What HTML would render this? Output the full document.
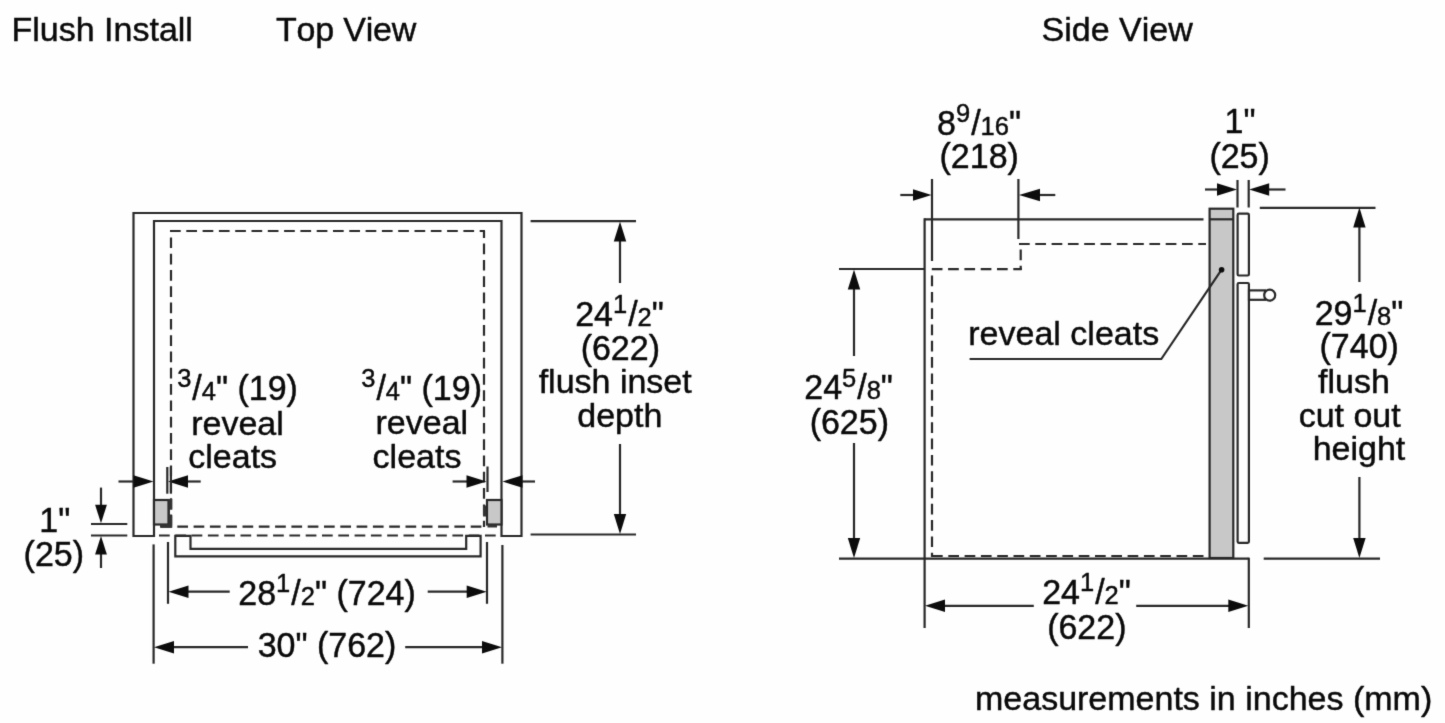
<!DOCTYPE html>
<html lang="en">
<head>
<meta charset="utf-8">
<title>Flush Install - Top View / Side View</title>
<style>
html,body{margin:0;padding:0;background:#fff;}
body{width:1445px;height:723px;overflow:hidden;}
svg{display:block;will-change:transform;}
text{font-family:"Liberation Sans",Arial,Helvetica,sans-serif;font-size:34px;fill:#0a0a0a;stroke:#0a0a0a;stroke-width:0.45px;stroke-linejoin:round;font-kerning:none;font-variant-ligatures:none;}
.n,.d{font-size:25.5px;}
.l{stroke:#282828;stroke-width:2.2;fill:none;stroke-linecap:butt;}
.dsh{stroke:#282828;stroke-width:2.2;fill:none;stroke-dasharray:10.7 5.6;}
.a{fill:#0c0c0c;stroke:none;}
.sh{fill:#333;stroke:none;}
.g{fill:#c8c8c8;stroke:#282828;stroke-width:2.2;}
.w{fill:#fefefe;stroke:#282828;stroke-width:2.2;}
</style>
</head>
<body>
<svg width="1445" height="723" viewBox="0 0 1445 723">
<defs>
<filter id="soft" x="0" y="0" width="1445" height="723" filterUnits="userSpaceOnUse" color-interpolation-filters="sRGB">
<feConvolveMatrix order="3" kernelMatrix="0.0121 0.0858 0.0121 0.0858 0.6084 0.0858 0.0121 0.0858 0.0121" divisor="1" edgeMode="duplicate" preserveAlpha="true"/>
</filter>
</defs>
<g filter="url(#soft)">
<rect x="0" y="0" width="1445" height="723" fill="#fefefe"/>
<text x="11.5" y="40.7" text-anchor="start">Flush Install</text>
<text x="276" y="40.7" text-anchor="start" letter-spacing="-0.2">Top View</text>
<text x="1041.5" y="40.7" text-anchor="start">Side View</text>
<text x="975" y="710" text-anchor="start">measurements in inches (mm)</text>
<g id="topview">
<path class="l" d="M133.5,536 V213 H521.5 V536 H501.5 V221 H154 V536 Z"/>
<line class="dsh" x1="170" y1="231" x2="485" y2="231"/>
<line class="dsh" x1="171" y1="237.4" x2="171" y2="527"/>
<line class="dsh" x1="484" y1="231" x2="484" y2="527" stroke-dashoffset="3.7"/>
<line class="dsh" x1="161" y1="526.7" x2="484" y2="526.7"/>
<line class="dsh" x1="159" y1="535.5" x2="497" y2="535.5"/>
<rect class="g" x="154" y="500" width="14.5" height="24.5"/>
<rect class="g" x="487" y="500" width="14.5" height="24.5"/>
<path class="sh" d="M168.4,499 H172.3 V509.8 H170 V515.3 H172.3 V527.8 H160 V524.3 H168.4 Z"/>
<path class="sh" d="M487.5,524.5 H497 V527.6 H487.5 Z M483,505.5 H486.2 V516.6 H483 Z"/>
<path class="l" d="M175.3,535.8 V556.3 H480.6 V535.8 H466.2 V548.8 H190.5 V535.8 Z"/>
<line class="l" x1="118.5" y1="481.5" x2="134.5" y2="481.5"/>
<polygon class="a" points="153.5,481.5 133.5,475.3 133.5,487.7"/>
<line class="l" x1="187" y1="481.5" x2="200.7" y2="481.5"/>
<polygon class="a" points="168,481.5 188,475.3 188,487.7"/>
<line class="l" x1="167.3" y1="467" x2="167.3" y2="493.7"/>
<line class="l" x1="170.9" y1="467" x2="170.9" y2="493.7"/>
<line class="l" x1="452.6" y1="481.5" x2="467.5" y2="481.5"/>
<polygon class="a" points="486.5,481.5 466.5,475.3 466.5,487.7"/>
<line class="l" x1="521.5" y1="481.5" x2="535" y2="481.5"/>
<polygon class="a" points="502.5,481.5 522.5,475.3 522.5,487.7"/>
<line class="l" x1="487.5" y1="466.5" x2="487.5" y2="492"/>
<line class="l" x1="91" y1="524" x2="127.3" y2="524"/>
<line class="l" x1="91" y1="535.5" x2="127.3" y2="535.5"/>
<line class="l" x1="101" y1="487.6" x2="101" y2="505.79999999999995"/>
<polygon class="a" points="101,523.3 95.1,504.79999999999995 106.9,504.79999999999995"/>
<line class="l" x1="101" y1="553.5" x2="101" y2="568"/>
<polygon class="a" points="101,536 95.1,554.5 106.9,554.5"/>
<line class="l" x1="530.6" y1="221.2" x2="636" y2="221.2"/>
<line class="l" x1="530.6" y1="534.5" x2="636" y2="534.5"/>
<line class="l" x1="620" y1="240.5" x2="620" y2="283"/>
<polygon class="a" points="620,221.5 613.8,241.5 626.2,241.5"/>
<line class="l" x1="620" y1="444" x2="620" y2="515"/>
<polygon class="a" points="620,534 613.8,514 626.2,514"/>
<line class="l" x1="168" y1="542" x2="168" y2="603.8"/>
<line class="l" x1="487" y1="542" x2="487" y2="603.8"/>
<line class="l" x1="187.5" y1="591.7" x2="229.7" y2="591.7"/>
<polygon class="a" points="168.5,591.7 188.5,585.5 188.5,597.9000000000001"/>
<line class="l" x1="427.7" y1="591.7" x2="467.7" y2="591.7"/>
<polygon class="a" points="486.7,591.7 466.7,585.5 466.7,597.9000000000001"/>
<line class="l" x1="153.6" y1="544.4" x2="153.6" y2="663.7"/>
<line class="l" x1="502.4" y1="545" x2="502.4" y2="663.7"/>
<line class="l" x1="173" y1="647.2" x2="248" y2="647.2"/>
<polygon class="a" points="154,647.2 174,641.0 174,653.4000000000001"/>
<line class="l" x1="405.2" y1="647.2" x2="483" y2="647.2"/>
<polygon class="a" points="502,647.2 482,641.0 482,653.4000000000001"/>
<text transform="translate(619.5 326.3) scale(1 1.04)" text-anchor="middle">24<tspan class="n" dy="-12.4">1</tspan><tspan dy="12.4" dx="1">/</tspan><tspan class="d">2</tspan>"</text>
<text transform="translate(620.3 360.4) scale(1 1.04)" text-anchor="middle">(622)</text>
<text x="615.2" y="393" text-anchor="middle">flush inset</text>
<text x="619.8" y="426.7" text-anchor="middle">depth</text>
<text transform="translate(237.5 400) scale(1 1.04)" text-anchor="middle"><tspan class="n" dy="-12.4">3</tspan><tspan dy="12.4" dx="1">/</tspan><tspan class="d">4</tspan>" (19)</text>
<text x="237.5" y="434.5" text-anchor="middle">reveal</text>
<text x="232.7" y="468.4" text-anchor="middle">cleats</text>
<text transform="translate(421.6 400.3) scale(1 1.04)" text-anchor="middle"><tspan class="n" dy="-12.4">3</tspan><tspan dy="12.4" dx="1">/</tspan><tspan class="d">4</tspan>" (19)</text>
<text x="421.8" y="434.2" text-anchor="middle">reveal</text>
<text x="417" y="468.4" text-anchor="middle">cleats</text>
<text transform="translate(54.8 531.8) scale(1 1.04)" text-anchor="middle">1"</text>
<text transform="translate(53.8 565.8) scale(1 1.04)" text-anchor="middle">(25)</text>
<text transform="translate(327 604.8) scale(1 1.04)" text-anchor="middle">28<tspan class="n" dy="-12.4">1</tspan><tspan dy="12.4" dx="1">/</tspan><tspan class="d">2</tspan>" (724)</text>
<text transform="translate(327 657) scale(1 1.04)" text-anchor="middle">30" (762)</text>
</g>
<g id="sideview">
<line class="l" x1="924.5" y1="219.3" x2="1203.5" y2="219.3"/>
<line class="l" x1="924.6" y1="218.3" x2="924.6" y2="628"/>
<line class="l" x1="839" y1="558.7" x2="1248.8" y2="558.7"/>
<line class="l" x1="1248.8" y1="557.7" x2="1248.8" y2="628"/>
<line class="dsh" x1="1019" y1="244" x2="1206" y2="244"/>
<line class="dsh" x1="1020.7" y1="249.5" x2="1020.7" y2="270" stroke-dasharray="8.5 2.5 10 9"/>
<line class="dsh" x1="931.8" y1="269.2" x2="1021.7" y2="269.2" stroke-dasharray="11.2 5.3"/>
<line class="dsh" x1="932" y1="275.6" x2="932" y2="557"/>
<line class="dsh" x1="932" y1="556" x2="1204.3" y2="556"/>
<line class="l" x1="932" y1="179" x2="932" y2="261"/>
<line class="l" x1="1018.4" y1="179" x2="1018.4" y2="239"/>
<line class="l" x1="900.3" y1="195" x2="914.0" y2="195"/>
<polygon class="a" points="931.5,195 913.0,189.2 913.0,200.8"/>
<line class="l" x1="1039" y1="195" x2="1055.3" y2="195"/>
<polygon class="a" points="1019,195 1040,188.8 1040,201.2"/>
<line class="l" x1="839" y1="269" x2="924.5" y2="269"/>
<line class="l" x1="854" y1="288.5" x2="854" y2="356"/>
<polygon class="a" points="854,269.5 847.8,289.5 860.2,289.5"/>
<line class="l" x1="854" y1="443" x2="854" y2="539"/>
<polygon class="a" points="854,558 847.8,538 860.2,538"/>
<rect class="g" x="1209.6" y="208.7" width="23.7" height="349.3"/>
<line class="l" x1="1209.6" y1="219.3" x2="1233.3" y2="219.3"/>
<rect class="w" x="1237.6" y="213.7" width="11.3" height="61.8" rx="1.2"/>
<rect class="w" x="1237.6" y="283" width="11.3" height="259.8" rx="1.2"/>
<rect class="w" x="1249" y="290.4" width="16" height="9.4"/>
<circle class="w" cx="1269.7" cy="295.2" r="5.5"/>
<line class="l" x1="1237.5" y1="180" x2="1237.5" y2="207.5"/>
<line class="l" x1="1248.7" y1="180" x2="1248.7" y2="207.5"/>
<line class="l" x1="1205" y1="189.5" x2="1218" y2="189.5"/>
<polygon class="a" points="1237,189.5 1217,183.3 1217,195.7"/>
<line class="l" x1="1268.2" y1="189.5" x2="1285.5" y2="189.5"/>
<polygon class="a" points="1249.2,189.5 1269.2,183.3 1269.2,195.7"/>
<line class="l" x1="1259.8" y1="207.8" x2="1375.5" y2="207.8"/>
<line class="l" x1="1263.7" y1="558.7" x2="1380" y2="558.7"/>
<line class="l" x1="1359.4" y1="226.5" x2="1359.4" y2="282"/>
<polygon class="a" points="1359.4,207.5 1353.2,227.5 1365.6000000000001,227.5"/>
<line class="l" x1="1359.4" y1="477" x2="1359.4" y2="539"/>
<polygon class="a" points="1359.4,558 1353.2,538 1365.6000000000001,538"/>
<line class="l" x1="944" y1="605.8" x2="1033.8" y2="605.8"/>
<polygon class="a" points="925,605.8 945,599.5999999999999 945,612.0"/>
<line class="l" x1="1136.2" y1="605.8" x2="1229.3" y2="605.8"/>
<polygon class="a" points="1248.3,605.8 1228.3,599.5999999999999 1228.3,612.0"/>
<path class="l" d="M969.6,359 H1161.3 L1221.6,269.7"/>
<circle class="a" cx="1221.6" cy="269.7" r="2.8"/>
<text transform="translate(979 135) scale(1 1.04)" text-anchor="middle">8<tspan class="n" dy="-12.4">9</tspan><tspan dy="12.4" dx="1">/</tspan><tspan class="d">16</tspan>"</text>
<text transform="translate(979.2 168.3) scale(1 1.04)" text-anchor="middle">(218)</text>
<text transform="translate(1240 133) scale(1 1.04)" text-anchor="middle">1"</text>
<text transform="translate(1239.6 167.5) scale(1 1.04)" text-anchor="middle">(25)</text>
<text transform="translate(848.6 399.2) scale(1 1.04)" text-anchor="middle">24<tspan class="n" dy="-11.6">5</tspan><tspan dy="11.6" dx="1">/</tspan><tspan class="d">8</tspan>"</text>
<text transform="translate(849.3 433.5) scale(1 1.04)" text-anchor="middle">(625)</text>
<text x="968.3" y="345" text-anchor="start">reveal cleats</text>
<text transform="translate(1359 324.8) scale(1 1.04)" text-anchor="middle">29<tspan class="n" dy="-12.4">1</tspan><tspan dy="12.4" dx="1">/</tspan><tspan class="d">8</tspan>"</text>
<text transform="translate(1359.2 357.8) scale(1 1.04)" text-anchor="middle">(740)</text>
<text x="1353.9" y="393.2" text-anchor="middle">flush</text>
<text x="1349.7" y="427.4" text-anchor="middle">cut out</text>
<text x="1359" y="460.2" text-anchor="middle">height</text>
<text transform="translate(1086.5 603.8) scale(1 1.04)" text-anchor="middle">24<tspan class="n" dy="-12.4">1</tspan><tspan dy="12.4" dx="1">/</tspan><tspan class="d">2</tspan>"</text>
<text transform="translate(1086.8 638.5) scale(1 1.04)" text-anchor="middle">(622)</text>
</g>
</g>
</svg>
</body>
</html>
